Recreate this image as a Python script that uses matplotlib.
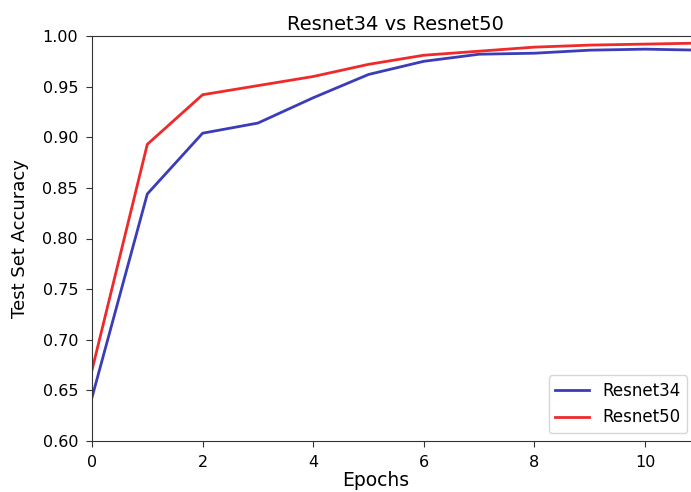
import matplotlib
matplotlib.use("Agg")
import matplotlib.pyplot as plt

epochs = [0, 1, 2, 3, 4, 5, 6, 7, 8, 9, 10, 11]
resnet34 = [0.643, 0.844, 0.904, 0.914, 0.939, 0.962, 0.975, 0.982, 0.983, 0.986, 0.987, 0.986]
resnet50 = [0.670, 0.893, 0.942, 0.951, 0.960, 0.972, 0.981, 0.985, 0.989, 0.991, 0.992, 0.993]
xticks = [0, 2, 4, 6, 8, 10]
yticks = [0.60, 0.65, 0.70, 0.75, 0.80, 0.85, 0.90, 0.95, 1.00]

W, H = 691, 492
fig = plt.figure(figsize=(W / 100, H / 100), dpi=100)
left, right, top, bottom = 92, 92 + 11 * 55.3, 36, 441
ax = fig.add_axes([left / W, 1 - bottom / H, (right - left) / W, (bottom - top) / H])

ax.plot(epochs, resnet34, color="#3b3db8", lw=2, label="Resnet34")
ax.plot(epochs, resnet50, color="#ee2a2a", lw=2, label="Resnet50")
ax.set_xlim(0, 11)
ax.set_ylim(0.60, 1.00)
ax.set_xticks(xticks)
ax.set_yticks(yticks)
ax.set_yticklabels([f"{v:.2f}" for v in yticks])
ax.tick_params(labelsize=11.5, length=4.5, pad=5.5, color="#333333")
ax.set_title("Resnet34 vs Resnet50", fontsize=14, x=(395 - left) / (right - left), pad=4)
ax.set_xlabel("Epochs", fontsize=13.5, x=(376 - left) / (right - left), labelpad=1)
ax.set_ylabel("Test Set Accuracy", fontsize=13, labelpad=10)
for s in ax.spines.values():
    s.set_color("#333333")
ax.legend(loc="lower right", bbox_to_anchor=(687 / W, 1 - 433 / H),
          bbox_transform=fig.transFigure, fontsize=12, handlelength=2.0,
          borderaxespad=0)

fig.savefig("out.png", dpi=100)
